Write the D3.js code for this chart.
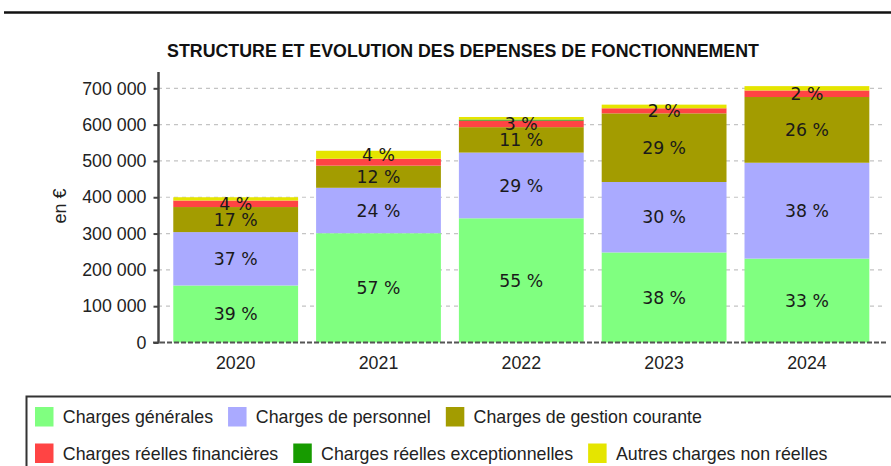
<!DOCTYPE html>
<html><head><meta charset="utf-8">
<script src="https://cdn.jsdelivr.net/npm/d3@7"></script>
<style>html,body{margin:0;padding:0;background:#fff;overflow:hidden}</style>
</head><body>
<svg id="chart" width="891" height="466"></svg>
<script>
const years = ["2020","2021","2022","2023","2024"];
const seriesNames = ["Charges générales","Charges de personnel","Charges de gestion courante","Charges réelles financières","Charges réelles exceptionnelles","Autres charges non réelles"];
const seriesColors = ["#80ff80","#aaaaff","#a39c00","#ff4444","#179b00","#e5e500"];
const chargesGenerales      = [157000, 301000, 342000, 248000, 231000];
const chargesPersonnel      = [147000, 125000, 181000, 194000, 264000];
const chargesGestion        = [ 69000,  61000,  70000, 189000, 181000];
const chargesFinancieres    = [ 18000,  19000,  18000,  14000,  18000];
const chargesExceptionnelles= [     0,      0,   3000,      0,      0];
const autresCharges         = [  9000,  22000,   7000,  10000,  12000];
// displayed percentage labels (null = not shown)
const labelsGenerales   = [39, 57, 55, 38, 33];
const labelsPersonnel   = [37, 24, 29, 30, 38];
const labelsGestion     = [17, 12, 11, 29, 26];
const labelsFinancieres = [4, null, 3, 2, 2];
const labelsExcept      = [null, null, null, null, null];
const labelsAutres      = [null, 4, null, null, null];
const yTicks = [0,100000,200000,300000,400000,500000,600000,700000];
const title = "STRUCTURE ET EVOLUTION DES DEPENSES DE FONCTIONNEMENT";
const yLabel = "en €";

const seriesValues = [chargesGenerales, chargesPersonnel, chargesGestion, chargesFinancieres, chargesExceptionnelles, autresCharges];
const seriesLabels = [labelsGenerales, labelsPersonnel, labelsGestion, labelsFinancieres, labelsExcept, labelsAutres];

const svg = d3.select("#chart");
const ARIAL = "'Liberation Sans', Arial, sans-serif";

// top rule
svg.append("line").attr("x1",4).attr("x2",891).attr("y1",12.5).attr("y2",12.5)
  .attr("stroke","#111").attr("stroke-width",2.5);

// title
svg.append("text").attr("x",463).attr("y",56.5).attr("text-anchor","middle")
  .attr("font-family",ARIAL).attr("font-weight","bold").attr("font-size",17.8)
  .attr("fill","#111").text(title);

const x = d3.scaleBand().domain(years).range([158, 884.6]).paddingInner(0.126).paddingOuter(0.107);
const y = d3.scaleLinear().domain([0,700000]).range([342.5, 88.3]);

// grid
svg.append("g").selectAll("line").data(yTicks.filter(d=>d>0)).join("line")
  .attr("x1",158).attr("x2",886).attr("y1",d=>y(d)).attr("y2",d=>y(d))
  .attr("stroke","#c4c4c4").attr("stroke-width",1.2).attr("stroke-dasharray","4,4");

// stacked data
const table = years.map((yr,i)=>{
  const o = {year: yr};
  seriesNames.forEach((s,k)=>o[s]=seriesValues[k][i]);
  return o;
});
const stack = d3.stack().keys(seriesNames)(table);

const layers = svg.append("g").selectAll("g").data(stack).join("g")
  .attr("fill",(d,k)=>seriesColors[k]);
layers.selectAll("rect").data(d=>d).join("rect")
  .attr("x",d=>x(d.data.year)).attr("width",x.bandwidth())
  .attr("y",d=>y(d[1])).attr("height",d=>Math.max(0,y(d[0])-y(d[1])));

// labels
const lab = svg.append("g");
stack.forEach((layer,k)=>{
  layer.forEach((d,i)=>{
    const l = seriesLabels[k][i];
    if (l==null) return;
    lab.append("text")
      .attr("x", x(d.data.year)+x.bandwidth()/2)
      .attr("y", (y(d[0])+y(d[1]))/2)
      .attr("dy","0.36em")
      .attr("text-anchor","middle")
      .attr("font-family","'DejaVu Sans', sans-serif")
      .attr("font-size",17.3)
      .attr("fill","#1a1a1a")
      .text(l+" %");
  });
});

// x axis dashed baseline
svg.append("line").attr("x1",153).attr("x2",886).attr("y1",y(0)).attr("y2",y(0))
  .attr("stroke","#555").attr("stroke-width",2).attr("stroke-dasharray","5,2");

// y axis
svg.append("line").attr("x1",158.5).attr("x2",158.5).attr("y1",72).attr("y2",y(0)+1)
  .attr("stroke","#444").attr("stroke-width",2.5);
const yAxis = d3.axisLeft(y).tickValues(yTicks).tickSize(5).tickPadding(7)
  .tickFormat(d=>d3.format(",")(d).replace(/,/g," "));
const ya = svg.append("g").attr("transform","translate(158.5,0)").call(yAxis);
ya.select(".domain").remove();
ya.selectAll(".tick line").attr("stroke","#444").attr("stroke-width",2);
ya.selectAll(".tick text").attr("font-family",ARIAL).attr("font-size",17.8).attr("fill","#222");

// x labels
const xAxis = d3.axisBottom(x).tickSize(0).tickPadding(0);
const xa = svg.append("g").attr("transform","translate(0,"+y(0)+")").call(xAxis);
xa.select(".domain").remove();
xa.selectAll(".tick text").attr("font-family",ARIAL).attr("font-size",17.8).attr("fill","#222")
  .attr("dy",null).attr("y",26);

// y label
svg.append("text").attr("transform","translate(66,206) rotate(-90)")
  .attr("text-anchor","middle").attr("font-family",ARIAL).attr("font-size",18)
  .attr("fill","#222").text(yLabel);

// legend
svg.append("rect").attr("x",26.5).attr("y",396.5).attr("width",900).attr("height",100)
  .attr("fill","none").attr("stroke","#333").attr("stroke-width",2);
const rows = [[0,1,2],[3,4,5]];
const rowY = [407, 443.5];
const lg = svg.append("g");
rows.forEach((row,r)=>{
  let cx = 35;
  row.forEach(k=>{
    lg.append("rect").attr("x",cx).attr("y",rowY[r]).attr("width",18.5).attr("height",19.5)
      .attr("fill",seriesColors[k]);
    const t = lg.append("text").attr("x",cx+27.8).attr("y",rowY[r]+16.3)
      .attr("font-family",ARIAL).attr("font-size",17.8).attr("fill","#222").text(seriesNames[k]);
    cx = cx + 27.8 + t.node().getComputedTextLength() + 15;
  });
});
</script>
</body></html>
